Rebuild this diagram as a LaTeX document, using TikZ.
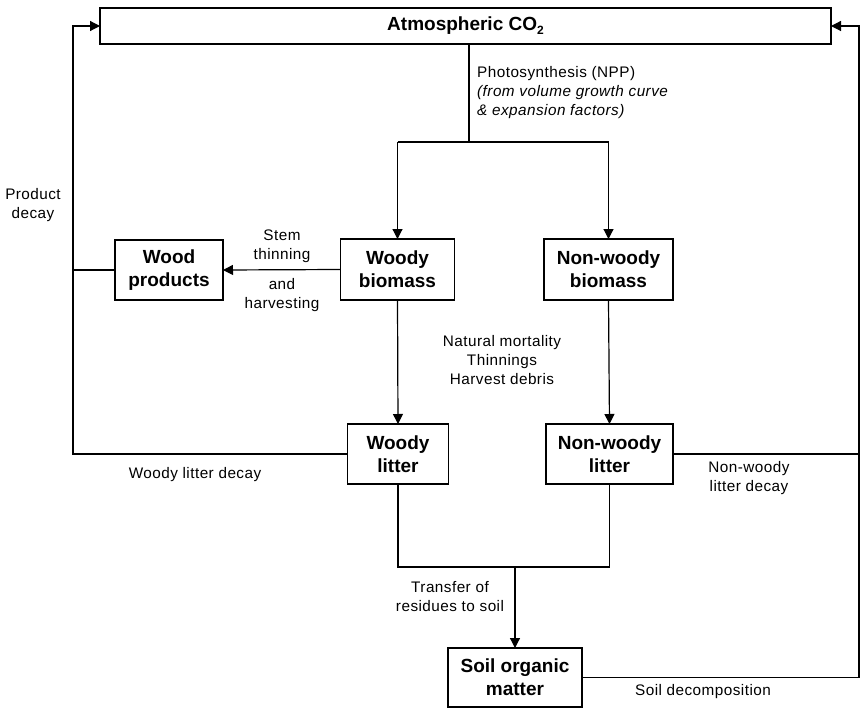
\documentclass[tikz,border=0pt]{standalone}
\usepackage{fontspec}
\setmainfont{Liberation Sans}
\usetikzlibrary{arrows.meta}
\begin{document}
\begin{tikzpicture}[x=1pt,y=-1pt,
  pool/.style={draw, line width=1.8pt, inner sep=0pt, outer sep=0pt, align=center,
    font=\fontsize{19}{23}\selectfont\bfseries},
  conn/.style={line width=1.2pt},
  arr/.style={conn, -{Triangle[length=10pt,width=10pt]}},
  lbl/.style={inner sep=0pt, align=center, font=\fontsize{15.3}{19}\selectfont\addfontfeatures{LetterSpace=3}}
]
\useasboundingbox (0,0) rectangle (860,709);
% pools
\node[pool, minimum width=731pt, minimum height=36pt] (co2) at (465.5,26) {Atmospheric CO{\fontsize{12}{12}\selectfont\raisebox{-4pt}{2}}};
\node[pool, minimum width=114pt, minimum height=61pt] (wb) at (397.5,269.5) {Woody\\biomass};
\node[pool, minimum width=129pt, minimum height=61pt] (nwb) at (608.5,269.5) {Non-woody\\biomass};
\node[pool, minimum width=108pt, minimum height=60pt] (wp) at (169,270) {Wood\\products};
\node[pool, minimum width=101pt, minimum height=60pt] (wl) at (398,454) {Woody\\litter};
\node[pool, minimum width=127pt, minimum height=60pt] (nwl) at (609.5,454) {Non-woody\\litter};
\node[pool, minimum width=134pt, minimum height=59pt] (som) at (515,677.5) {Soil organic\\matter};
% helper coordinates
\coordinate (split) at (469,142);
\coordinate (L) at (73,0);
\coordinate (R) at (859,0);
\coordinate (J) at (515,567);
% photosynthesis
\draw[conn] (co2.south -| split) -- (split);
\draw[conn] (split -| wb.north) -- (split -| nwb.north);
\draw[arr] (split -| wb.north) -- (wb.north);
\draw[arr] (split -| nwb.north) -- (nwb.north);
% harvest
\draw[arr] (wb.west) -- (wp.east);
% mortality
\draw[arr] (wb.south) -- (wl.north);
\draw[arr] (nwb.south) -- (nwl.north);
% left return
\draw[conn] (wp.west) -- (wp.west -| L);
\draw[arr] (wl.west) -- (wl.west -| L) -- (L |- co2.west) -- (co2.west);
% right return
\draw[conn] (nwl.east) -- (nwl.east -| R);
\draw[arr] (som.east) -- (som.east -| R) -- (R |- co2.east) -- (co2.east);
% transfer to soil
\draw[conn] (wl.south) |- (J);
\draw[conn] (nwl.south) |- (J);
\draw[arr] (J) -- (som.north);
% labels
\node[lbl, anchor=west, align=left] (photo) at (477,93) {Photosynthesis (NPP)\\\itshape (from volume growth curve\\\itshape \& expansion factors)};
\node[lbl] (stem) at (282,246) {Stem\\thinning};
\node[lbl] (harv) at (282,295) {and\\harvesting};
\node[lbl] (pdec) at (33,205) {Product\\decay};
\node[lbl] (mort) at (502,360) {Natural mortality\\Thinnings\\Harvest debris};
\node[lbl] (wldec) at (195,475) {Woody litter decay};
\node[lbl] (nwldec) at (749,478) {Non-woody\\litter decay};
\node[lbl] (trans) at (450,597) {Transfer of\\residues to soil};
\node[lbl] (sdec) at (703,692) {Soil decomposition};
\end{tikzpicture}
\end{document}
